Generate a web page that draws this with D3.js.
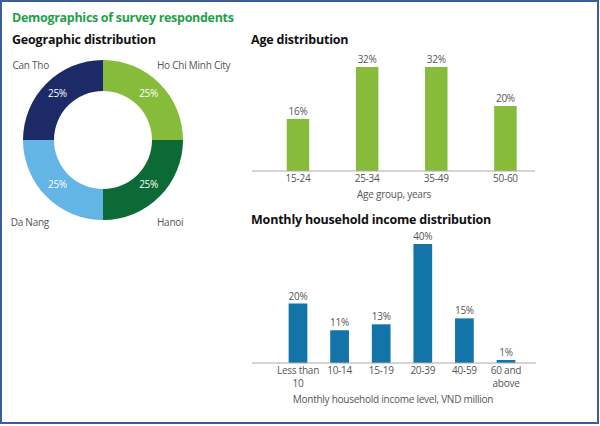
<!DOCTYPE html>
<html lang="en">
<head>
    <meta charset="UTF-8">
    <title>Demographics of survey respondents</title>
    <script src="https://d3js.org/d3.v7.min.js"></script>
    <style>
        body { margin: 0; background: #fff; }
        text { font-family: "Open Sans", "Noto Sans", sans-serif; }
    </style>
</head>
<body>
    <div class="container"></div>
    <script>
        // data
        const geoLabels = ["Ho Chi Minh City", "Hanoi", "Da Nang", "Can Tho"];
        const geoValues = [25, 25, 25, 25];
        const geoColors = ["#86bc3a", "#0b6a36", "#62b5e5", "#1c2a68"];

        const ageGroups = ["15-24", "25-34", "35-49", "50-60"];
        const ageValues = [16, 32, 32, 20];

        const incomeGroups = ["Less than 10", "10-14", "15-19", "20-39", "40-59", "60 and above"];
        const incomeValues = [20, 11, 13, 40, 15, 1];

        const width = 600, height = 426;
        const grey = "#555";
        const small = "10px", tight = "-0.25px";

        const svg = d3.select(".container")
            .append("svg")
            .attr("width", width)
            .attr("height", height);

        // frame
        svg.append("rect")
            .attr("x", 1).attr("y", 1)
            .attr("width", width - 3).attr("height", height - 4)
            .attr("fill", "none")
            .attr("stroke", "#3d5c9c")
            .attr("stroke-width", 2);

        // titles
        svg.append("text")
            .attr("x", 12).attr("y", 22)
            .attr("font-size", "12.5px").attr("font-weight", "bold")
            .attr("letter-spacing", "-0.3px")
            .attr("fill", "#1fa04a")
            .text("Demographics of survey respondents");

        const heading = (x, y, t) => svg.append("text")
            .attr("x", x).attr("y", y)
            .attr("font-size", "12.5px").attr("font-weight", "bold")
            .attr("letter-spacing", "-0.2px")
            .attr("fill", "#111")
            .text(t);

        heading(12, 44, "Geographic distribution");
        heading(251, 44, "Age distribution");
        heading(251, 224, "Monthly household income distribution");

        // donut
        const cx = 103, cy = 140, outerR = 80, innerR = 49;
        const donut = svg.append("g").attr("transform", `translate(${cx}, ${cy})`);

        const pie = d3.pie().sort(null).value(d => d)(geoValues);
        const arc = d3.arc().innerRadius(innerR).outerRadius(outerR);

        donut.selectAll("path")
            .data(pie)
            .enter()
            .append("path")
            .attr("d", arc)
            .attr("fill", (d, i) => geoColors[i]);

        donut.selectAll("text.pct")
            .data(pie)
            .enter()
            .append("text")
            .attr("class", "pct")
            .attr("transform", d => `translate(${arc.centroid(d)})`)
            .attr("text-anchor", "middle")
            .attr("dominant-baseline", "middle")
            .attr("font-size", small)
            .attr("letter-spacing", tight)
            .attr("fill", "#fff")
            .text(d => d.value + "%");

        // outer labels at the corners of the ring
        donut.selectAll("text.name")
            .data(pie)
            .enter()
            .append("text")
            .attr("class", "name")
            .attr("x", d => arc.centroid(d)[0] > 0 ? 54 : -54)
            .attr("y", d => arc.centroid(d)[1] < 0 ? -outerR + 6 : outerR + 3)
            .attr("text-anchor", d => arc.centroid(d)[0] > 0 ? "start" : "end")
            .attr("dominant-baseline", "middle")
            .attr("font-size", small)
            .attr("letter-spacing", tight)
            .attr("fill", grey)
            .text((d, i) => geoLabels[i]);

        // bar chart helper
        function barChart(opts) {
            const x = d3.scaleBand()
                .domain(opts.groups)
                .range(opts.xRange)
                .paddingInner(opts.padding)
                .paddingOuter(opts.padding / 2);
            const y = d3.scaleLinear()
                .domain([0, opts.max])
                .range([opts.baseY, opts.topY]);

            const g = svg.append("g");

            g.selectAll("rect")
                .data(opts.values)
                .enter()
                .append("rect")
                .attr("x", (d, i) => x(opts.groups[i]))
                .attr("y", d => y(d))
                .attr("width", x.bandwidth())
                .attr("height", d => y(0) - y(d))
                .attr("fill", opts.color);

            g.selectAll("text.val")
                .data(opts.values)
                .enter()
                .append("text")
                .attr("class", "val")
                .attr("x", (d, i) => x(opts.groups[i]) + x.bandwidth() / 2)
                .attr("y", d => y(d) - 4)
                .attr("text-anchor", "middle")
                .attr("font-size", small)
                .attr("letter-spacing", tight)
                .attr("fill", grey)
                .text(d => d + "%");

            // axis
            const axis = g.append("g")
                .attr("transform", `translate(0, ${opts.baseY})`)
                .call(d3.axisBottom(x).tickSize(0).tickPadding(4));
            axis.select(".domain").remove();
            axis.append("line")
                .attr("x1", opts.lineX[0]).attr("x2", opts.lineX[1])
                .attr("stroke", "#aaa").attr("stroke-width", 1);
            axis.selectAll(".tick text")
                .attr("font-size", small)
                .attr("letter-spacing", tight)
                .attr("fill", grey)
                .style("font-family", "'Open Sans', sans-serif")
                .call(wrap, 48);

            g.append("text")
                .attr("x", opts.titleX)
                .attr("y", opts.titleY)
                .attr("text-anchor", "middle")
                .attr("font-size", small)
                .attr("letter-spacing", tight)
                .attr("fill", grey)
                .text(opts.title);
        }

        function wrap(texts, w) {
            texts.each(function () {
                const text = d3.select(this);
                const words = text.text().split(/\s+/);
                const yy = text.attr("y"), dy = parseFloat(text.attr("dy")) || 0;
                let line = [];
                let lineNo = 0;
                let tspan = text.text(null).append("tspan").attr("x", 0).attr("y", yy).attr("dy", dy + "em");
                words.forEach(word => {
                    line.push(word);
                    tspan.text(line.join(" "));
                    if (tspan.node().getComputedTextLength() > w && line.length > 1) {
                        line.pop();
                        tspan.text(line.join(" "));
                        line = [word];
                        tspan = text.append("tspan").attr("x", 0).attr("y", yy)
                            .attr("dy", (++lineNo * 1.3 + dy) + "em").text(word);
                    }
                });
            });
        }

        barChart({
            groups: ageGroups, values: ageValues,
            xRange: [263.4, 540], padding: 0.675,
            max: 32, baseY: 171, topY: 67,
            lineX: [252, 535],
            color: "#86bc3a",
            title: "Age group, years", titleX: 394, titleY: 198
        });

        barChart({
            groups: incomeGroups, values: incomeValues,
            xRange: [277.2, 526.8], padding: 0.55,
            max: 40, baseY: 363, topY: 244,
            lineX: [252, 536],
            color: "#1274a8",
            title: "Monthly household income level, VND million", titleX: 393, titleY: 403
        });
    </script>
</body>
</html>
